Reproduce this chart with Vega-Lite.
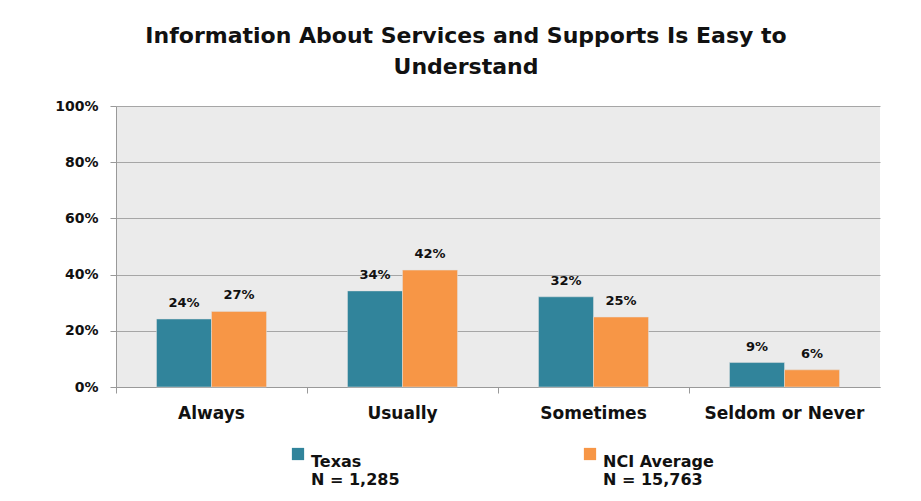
{
  "$schema": "https://vega.github.io/schema/vega-lite/v6.json",
  "width": 764,
  "height": 281,
  "autosize": "none",
  "padding": {"left": 116, "top": 106, "right": 41, "bottom": 114},
  "background": "white",
  "title": {
    "text": ["Information About Services and Supports Is Easy to", "Understand"],
    "font": "DejaVu Sans",
    "fontSize": 22,
    "fontWeight": "bold",
    "color": "#111111",
    "anchor": "middle",
    "dx": -32,
    "offset": 20,
    "lineHeight": 31
  },
  "data": {
    "values": [
      {"category": "Always", "series": "Texas", "value": 24.2, "label": "24%"},
      {"category": "Always", "series": "NCI Average", "value": 26.9, "label": "27%"},
      {"category": "Usually", "series": "Texas", "value": 34.2, "label": "34%"},
      {"category": "Usually", "series": "NCI Average", "value": 41.6, "label": "42%"},
      {"category": "Sometimes", "series": "Texas", "value": 32.1, "label": "32%"},
      {"category": "Sometimes", "series": "NCI Average", "value": 24.9, "label": "25%"},
      {"category": "Seldom or Never", "series": "Texas", "value": 8.7, "label": "9%"},
      {"category": "Seldom or Never", "series": "NCI Average", "value": 6.1, "label": "6%"}
    ]
  },
  "encoding": {
    "x": {
      "field": "category",
      "type": "nominal",
      "sort": ["Always", "Usually", "Sometimes", "Seldom or Never"],
      "scale": {"paddingInner": 0, "paddingOuter": 0},
      "axis": {
        "title": null,
        "labelAngle": 0,
        "labelFont": "DejaVu Sans",
        "labelFontSize": 17,
        "labelFontWeight": "bold",
        "labelColor": "#111111",
        "labelPadding": 12,
        "bandPosition": 0,
        "tickSize": 6,
        "tickColor": "#999999",
        "domainColor": "#999999",
        "grid": false
      }
    },
    "xOffset": {
      "field": "series",
      "type": "nominal",
      "sort": ["Texas", "NCI Average"],
      "scale": {"paddingInner": 0, "paddingOuter": 0.736}
    },
    "y": {
      "field": "value",
      "type": "quantitative",
      "scale": {"domain": [0, 100]},
      "axis": {
        "title": null,
        "values": [0, 20, 40, 60, 80, 100],
        "labelExpr": "datum.value + '%'",
        "labelFont": "DejaVu Sans",
        "labelFontSize": 14,
        "labelFontWeight": "bold",
        "labelColor": "#111111",
        "labelPadding": 12,
        "tickSize": 6,
        "tickColor": "#999999",
        "domainColor": "#999999",
        "gridColor": "#a6a6a6",
        "gridWidth": 1
      }
    }
  },
  "layer": [
    {
      "mark": {"type": "bar", "stroke": "#e0e0e0", "strokeWidth": 0.5},
      "encoding": {
        "color": {
          "field": "series",
          "type": "nominal",
          "sort": ["Texas", "NCI Average"],
          "scale": {"domain": ["Texas", "NCI Average"], "range": ["#31849b", "#f79646"]},
          "legend": {
            "title": null,
            "orient": "none",
            "legendX": 174,
            "legendY": 340,
            "direction": "horizontal",
            "symbolType": "square",
            "symbolSize": 150,
            "symbolStrokeWidth": 0,
            "labelFont": "DejaVu Sans",
            "labelFontSize": 16,
            "labelFontWeight": "bold",
            "labelColor": "#111111",
            "labelLimit": 300,
            "labelBaseline": "top",
            "labelOffset": 5,
            "labelLineHeight": 23,
            "columnPadding": 182,
            "labelExpr": "datum.label == 'Texas' ? ['Texas', '\u00a0N = 1,285'] : ['NCI Average', '\u00a0N = 15,763']"
          }
        }
      }
    },
    {
      "mark": {"type": "text", "dy": -16, "font": "DejaVu Sans", "fontSize": 13, "fontWeight": "bold", "color": "#111111"},
      "encoding": {"text": {"field": "label"}}
    }
  ],
  "config": {
    "view": {"fill": "#ebebeb", "stroke": null}
  }
}
